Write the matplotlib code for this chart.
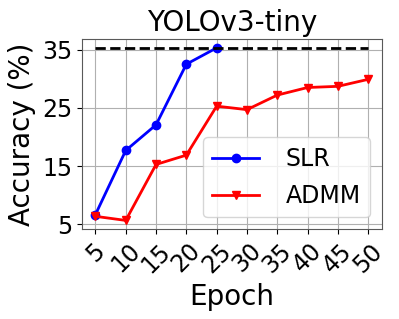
import matplotlib
matplotlib.use("Agg")
from matplotlib import pyplot as plt

epochs_slr = [5, 10, 15, 20, 25]
acc_slr = [6.7, 17.7, 22.1, 32.5, 35.3]
epochs_admm = [5, 10, 15, 20, 25, 30, 35, 40, 45, 50]
acc_admm = [6.4, 5.7, 15.3, 16.9, 25.3, 24.7, 27.2, 28.5, 28.7, 29.9]
baseline = 35.3
xticks = [5, 10, 15, 20, 25, 30, 35, 40, 45, 50]
yticks = [5, 15, 25, 35]

fig, ax = plt.subplots(figsize=(3.99, 3.19), dpi=100)
ax.plot(epochs_slr, acc_slr, color="blue", marker="o", markersize=6, linewidth=2, label="SLR")
ax.plot(epochs_admm, acc_admm, color="red", marker="v", markersize=6, linewidth=2, label="ADMM")
ax.plot([xticks[0], xticks[-1]], [baseline, baseline], "k--", linewidth=2)

ax.set_xticks(xticks)
ax.set_yticks(yticks)
ax.tick_params(axis="both", labelsize=17)
plt.setp(ax.get_xticklabels(), rotation=45)
ax.grid(True)
for s in ax.spines.values():
    s.set_color("0.35")

ax.set_xlabel("Epoch", fontsize=20)
ax.set_ylabel("Accuracy (%)", fontsize=20)
ax.set_title("YOLOv3-tiny", fontsize=20)
ax.legend(loc="lower right", fontsize=17, handletextpad=1.1, labelspacing=0.55)

fig.subplots_adjust(left=0.205, right=0.957, top=0.877, bottom=0.282)
fig.savefig("out.png", dpi=100)
